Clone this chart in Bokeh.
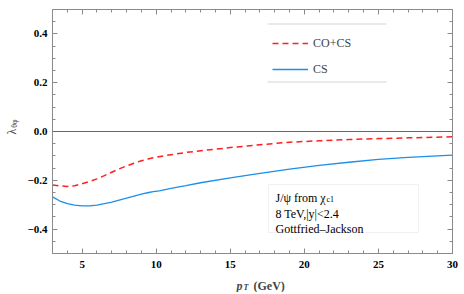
import numpy as np
from bokeh.plotting import figure
from bokeh.models import (LinearAxis, Range1d, Span, Label, BoxAnnotation, Legend,
                          LegendItem, SingleIntervalTicker, CustomJSTickFormatter)
from bokeh.embed import file_html
from bokeh.resources import INLINE

# ---- data ----
pt_cocs = [3, 3.5, 4, 4.5, 5, 5.5, 6, 6.5, 7, 7.5, 8, 8.5, 9, 9.5, 10, 11, 12, 13,
           15, 17, 19, 21, 23, 25, 27, 30]
lam_cocs = [-0.219, -0.223, -0.225, -0.222, -0.214, -0.205, -0.194, -0.181, -0.167,
            -0.153, -0.141, -0.130, -0.120, -0.112, -0.105, -0.095, -0.086, -0.079,
            -0.066, -0.054, -0.044, -0.038, -0.033, -0.029, -0.026, -0.022]
pt_cs = [3, 3.5, 4, 4.5, 5, 5.5, 6, 6.5, 7, 7.5, 8, 8.5, 9, 9.5, 9.8, 10.2, 11, 12, 13,
         15, 17, 19, 21, 23, 25, 27, 30]
lam_cs = [-0.268, -0.285, -0.296, -0.302, -0.305, -0.305, -0.302, -0.296, -0.289,
          -0.281, -0.273, -0.265, -0.257, -0.250, -0.246, -0.243, -0.233, -0.222,
          -0.210, -0.190, -0.172, -0.154, -0.139, -0.126, -0.114, -0.106, -0.097]
series_labels = ["CO+CS", "CS"]
info_lines = ["J/\u03c8 from \u03c7", "8 TeV,|y|<2.4", "Gottfried\u2013Jackson"]
info_sub = "c1"

SERIF = "Liberation Serif"
GRAY = "#8a8a8a"

p = figure(width=464, height=292, output_backend="svg", toolbar_location=None,
           x_range=Range1d(3, 30), y_range=Range1d(-0.5, 0.5),
           x_axis_location=None, y_axis_location=None,
           min_border_left=52, min_border_right=12, min_border_top=9, min_border_bottom=39)
p.grid.visible = False
p.outline_line_color = None
p.background_fill_color = "white"

yfmt = CustomJSTickFormatter(code="""
var s = Math.abs(tick) < 1e-9 ? '0.0' : tick.toFixed(1);
return s.replace('-', '\u2212');""")
xfmt = CustomJSTickFormatter(code="return Math.round(tick).toString();")
nofmt = CustomJSTickFormatter(code="return '';")

def style(ax, show):
    ax.axis_line_color = GRAY
    ax.major_tick_line_color = GRAY
    ax.minor_tick_line_color = GRAY
    ax.major_tick_in = 5
    ax.major_tick_out = 0
    ax.minor_tick_in = 3
    ax.minor_tick_out = 0
    if show:
        ax.major_label_text_font = SERIF
        ax.major_label_text_font_style = "bold"
        ax.major_label_text_font_size = "11px"
        ax.major_label_text_color = "black"
    else:
        ax.formatter = nofmt
        ax.major_label_text_font_size = "0px"
        ax.major_label_standoff = 0

for loc, show in (("below", True), ("above", False)):
    ax = LinearAxis(ticker=SingleIntervalTicker(interval=5, num_minor_ticks=5),
                    formatter=xfmt)
    style(ax, show)
    if show:
        ax.major_label_standoff = 7
    p.add_layout(ax, loc)

for loc, show in (("left", True), ("right", False)):
    ax = LinearAxis(ticker=SingleIntervalTicker(interval=0.2, num_minor_ticks=4),
                    formatter=yfmt)
    style(ax, show)
    if show:
        ax.major_label_standoff = 5
    p.add_layout(ax, loc)

p.add_layout(Span(location=0, dimension="width", line_color="#666666", line_width=1))

r1 = p.line(pt_cocs, lam_cocs, line_color="#ff1f1f", line_width=1.5, line_dash="6 4")
r2 = p.line(pt_cs, lam_cs, line_color="#1c8fe8", line_width=1.3)

legend = Legend(items=[LegendItem(label=series_labels[0], renderers=[r1]),
                       LegendItem(label=series_labels[1], renderers=[r2])],
                location=(210, 164), border_line_alpha=0, background_fill_alpha=0,
                glyph_width=36, glyph_height=20, label_height=20, spacing=6,
                padding=10, label_standoff=5, margin=0,
                label_text_font=SERIF, label_text_font_size="12px")
p.add_layout(legend)

for top in (23, 81):
    p.add_layout(BoxAnnotation(left=267, right=386, top=top, bottom=top + 1,
                               left_units="canvas", right_units="canvas",
                               top_units="canvas", bottom_units="canvas",
                               fill_color="#d6d6d6", fill_alpha=1, line_alpha=0))

p.add_layout(BoxAnnotation(left=268, right=418, top=184, bottom=232,
                           left_units="canvas", right_units="canvas",
                           top_units="canvas", bottom_units="canvas",
                           fill_color="white", fill_alpha=1,
                           line_color="#cfcfcf", line_width=1))

for txt, yy in zip(info_lines, (197, 213, 228)):
    p.add_layout(Label(x=275, y=yy, x_units="canvas", y_units="canvas", text=txt,
                       text_font=SERIF, text_font_size="12px", text_color="black",
                       text_baseline="alphabetic", text_align="left"))
p.add_layout(Label(x=326, y=199, x_units="canvas", y_units="canvas", text=info_sub,
                   text_font=SERIF, text_font_size="8px", text_color="black",
                   text_baseline="alphabetic", text_align="left"))

# y axis label  lambda_{theta phi}  (side panel so it is not clipped to the frame)
p.add_layout(Label(x=11, y=131, x_units="canvas", y_units="canvas", text="\u03bb",
                   angle=np.pi / 2, text_font=SERIF, text_font_size="12px",
                   text_align="center", text_baseline="middle"), "left")
p.add_layout(Label(x=14, y=123, x_units="canvas", y_units="canvas", text="\u03b8\u03c6",
                   angle=np.pi / 2, text_font=SERIF, text_font_size="8px",
                   text_align="center", text_baseline="middle"), "left")

# x axis label  p_T (GeV)
p.add_layout(Label(x=236, y=285, x_units="canvas", y_units="canvas", text="p",
                   text_font=SERIF, text_font_size="12px", text_font_style="bold italic",
                   text_baseline="alphabetic", text_align="left"), "right")
p.add_layout(Label(x=243, y=287, x_units="canvas", y_units="canvas", text="T",
                   text_font=SERIF, text_font_size="8px", text_font_style="bold italic",
                   text_baseline="alphabetic", text_align="left"), "right")
p.add_layout(Label(x=253, y=285, x_units="canvas", y_units="canvas", text="(GeV)",
                   text_font=SERIF, text_font_size="12px", text_font_style="bold",
                   text_baseline="alphabetic", text_align="left"), "below")

open("out.html", "w").write(file_html(p, INLINE))
